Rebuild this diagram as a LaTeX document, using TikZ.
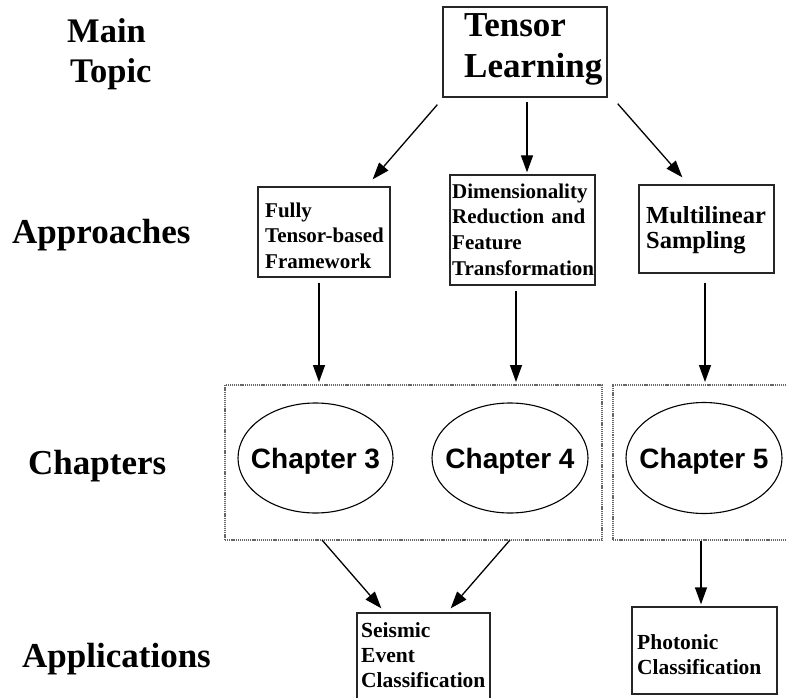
\documentclass[tikz,border=0pt]{standalone}
\usepackage{fontspec}
\setmainfont{Liberation Serif}
\setsansfont{Liberation Sans}
\usetikzlibrary{shapes.geometric,arrows.meta}
\begin{document}
\begin{tikzpicture}[x=1pt,y=-1pt,
 box/.style={draw=black!85,line width=1.3pt,inner sep=0pt,rectangle},
 txt/.style={anchor=base west,inner sep=0pt,align=left,text width=170pt},
 lbl/.style={anchor=base west,inner sep=0pt,font=\fontsize{35}{40}\selectfont\bfseries},
 arr/.style={line width=1.3pt,-{Triangle[length=17pt,width=12pt]}},
 chapell/.style={draw,ellipse,line width=1.1pt,inner sep=0pt},
 chaptxt/.style={inner sep=0pt,font=\sffamily\bfseries\fontsize{28}{30}\selectfont,text height=20pt,text depth=0pt},
 dotbox/.style={draw=black!60,line width=1.2pt,dash pattern=on 1.2pt off 0.9pt,inner sep=0pt,rectangle}]
\useasboundingbox (0,0) rectangle (787,698);
\clip (0,0) rectangle (787,698);
% left labels
\node[lbl,font=\fontsize{34.5}{40}\selectfont\bfseries] (lmain) at (67,43) {Main};
\node[lbl,font=\fontsize{34.5}{40}\selectfont\bfseries] (ltopic) at (70,83) {Topic};
\node[lbl] (lappr) at (12,243) {Approaches};
\node[lbl] (lchap) at (28,474) {Chapters};
\node[lbl] (lappl) at (22,667) {Applications};
% main topic
\node[box,minimum width=164pt,minimum height=90pt] (tl) at (525,52) {};
\node[txt,font=\fontsize{35}{41}\selectfont\bfseries] (tltxt) at (464,37) {Tensor\\Learning};
% approaches
\node[box,minimum width=132pt,minimum height=90pt] (b1) at (324,232) {};
\node[txt,font=\fontsize{21}{25.6}\selectfont\bfseries] (b1txt) at (265,217) {Fully\\Tensor-based\\Framework};
\node[box,minimum width=145pt,minimum height=110pt] (b2) at (522.5,230) {};
\node[txt,font=\fontsize{21}{25.7}\selectfont\bfseries] (b2txt) at (452,198) {Dimensionality\\Reduction and\\Feature\\Transformation};
\node[box,minimum width=135pt,minimum height=88pt] (b3) at (706.5,229) {};
\node[txt,font=\fontsize{24.5}{25}\selectfont\bfseries] (b3txt) at (646,223) {Multilinear\\Sampling};
% chapters
\node[dotbox,minimum width=377pt,minimum height=155pt] (d1) at (413.5,462.5) {};
\node[dotbox,minimum width=217pt,minimum height=155pt] (d2) at (721.5,462.5) {};
\node[chapell,minimum width=155pt,minimum height=110pt] (ch3) at (315.5,458) {};
\node[chaptxt] (ch3t) at (ch3) {Chapter 3};
\node[chapell,minimum width=156pt,minimum height=110pt] (ch4) at (510,458) {};
\node[chaptxt] (ch4t) at (ch4) {Chapter 4};
\node[chapell,minimum width=156pt,minimum height=111pt] (ch5) at (704,458) {};
\node[chaptxt] (ch5t) at (ch5) {Chapter 5};
% applications
\node[box,minimum width=133pt,minimum height=107pt] (s1) at (423.5,666.5) {};
\node[txt,font=\fontsize{21.5}{25}\selectfont\bfseries] (s1txt) at (361,637) {Seismic\\Event\\Classification};
\node[box,minimum width=145pt,minimum height=87pt] (p1) at (704.5,650.5) {};
\node[txt,font=\fontsize{21.5}{25}\selectfont\bfseries] (p1txt) at (637,649) {Photonic\\Classification};
% arrow end points on the dotted boxes
\coordinate (e1) at (319,382);
\coordinate (e2) at (516,382);
\coordinate (e3) at (705,382);
\coordinate (f1) at (322,540);
\coordinate (f2) at (510,540);
\coordinate (f3) at (701,541);
% connectors
\draw[arr] ([shift={(-5,7)}]tl.south west) -- ([shift={(-18,-7)}]b1.north east);
\draw[arr] ([shift={(2,4)}]tl.south) -- ([shift={(4.5,-2)}]b2.north);
\draw[arr] ([shift={(10,6)}]tl.south east) -- ([shift={(44,-7)}]b3.north west);
\draw[arr] ([shift={(-5,5)}]b1.south) -- (e1);
\draw[arr] ([shift={(-6.5,5)}]b2.south) -- (e2);
\draw[arr] ([shift={(-1.5,9)}]b3.south) -- (e3);
\draw[arr] (f1) -- ([shift={(25,-4)}]s1.north west);
\draw[arr] (f2) -- ([shift={(-40,-4)}]s1.north east);
\draw[arr] (f3) -- ([shift={(-3.5,-2)}]p1.north);
\end{tikzpicture}
\end{document}
